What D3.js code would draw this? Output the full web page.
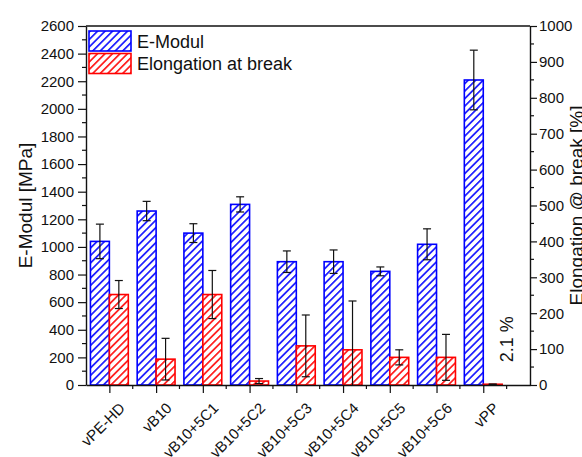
<!DOCTYPE html>
<html>
<head>
<meta charset="utf-8">
<script src="https://cdn.jsdelivr.net/npm/d3@7"></script>
<style>
  html, body { margin: 0; padding: 0; background: #fff; }
  svg { display: block; font-family: "Liberation Sans", Arial, sans-serif; }
</style>
</head>
<body>
<svg id="chart" width="582" height="457"></svg>
<script>
// Mechanical properties per material
const categories = ["vPE-HD", "vB10", "vB10+5C1", "vB10+5C2", "vB10+5C3", "vB10+5C4", "vB10+5C5", "vB10+5C6", "vPP"];
const modulus = [1040, 1260, 1100, 1308, 893, 893, 823, 1019, 2209];          // MPa
const modulusErr = [125, 70, 68, 55, 78, 85, 32, 112, 216];
const elongation = [252, 72, 252, 11, 109, 98, 77, 77, 2.1];                   // %
const elongationErr = [39, 58, 67, 7, 86, 136, 21, 64, 0.5];
const leftTicks = [0, 200, 400, 600, 800, 1000, 1200, 1400, 1600, 1800, 2000, 2200, 2400, 2600];
const rightTicks = [0, 100, 200, 300, 400, 500, 600, 700, 800, 900, 1000];
const seriesNames = ["E-Modul", "Elongation at break"];

const svg = d3.select("#chart");
const m = { left: 86, right: 530, top: 26, bottom: 385 };
const ink = "#111";

const x = d3.scaleLinear().domain([0.5, 10]).range([m.left, m.right]);
const yL = d3.scaleLinear().domain([0, 2600]).range([m.bottom, m.top]);
const yR = d3.scaleLinear().domain([0, 1000]).range([m.bottom, m.top]);
const step = x(2) - x(1);
const barW = step * 0.405;

// Hatch patterns
const defs = svg.append("defs");
function hatch(id, color) {
  const p = defs.append("pattern").attr("id", id)
    .attr("patternUnits", "userSpaceOnUse")
    .attr("width", 5.3).attr("height", 5.3)
    .attr("patternTransform", "rotate(45)");
  p.append("rect").attr("width", 5.3).attr("height", 5.3).attr("fill", "#fff");
  p.append("line").attr("x1", 0).attr("y1", 0).attr("x2", 0).attr("y2", 5.3)
    .attr("stroke", color).attr("stroke-width", 3.4);
}
hatch("hBlue", "#1a1aff");
hatch("hRed", "#ff1a1a");
defs.append("clipPath").attr("id", "plotClip").append("rect")
  .attr("x", m.left).attr("y", m.top).attr("width", m.right - m.left).attr("height", m.bottom - m.top);

const plot = svg.append("g").attr("clip-path", "url(#plotClip)");

// Bars
const idx = d3.range(categories.length);
plot.selectAll("rect.mod").data(idx).join("rect")
  .attr("x", i => x(i + 1) - barW)
  .attr("y", i => yL(modulus[i]))
  .attr("width", barW)
  .attr("height", i => yL(0) - yL(modulus[i]))
  .attr("fill", "url(#hBlue)").attr("stroke", "#0000ff").attr("stroke-width", 1.6);

plot.selectAll("rect.elo").data(idx).join("rect")
  .attr("x", i => x(i + 1))
  .attr("y", i => yR(elongation[i]))
  .attr("width", barW)
  .attr("height", i => yR(0) - yR(elongation[i]))
  .attr("fill", "url(#hRed)").attr("stroke", "#ff0000").attr("stroke-width", 1.6);

// Error bars
function errorBars(cx, vals, errs, scale) {
  const cap = 4;
  const g = plot.append("g").attr("stroke", ink).attr("stroke-width", 1.2);
  idx.forEach(i => {
    const xc = cx(i), hi = scale(vals[i] + errs[i]), lo = scale(vals[i] - errs[i]);
    g.append("line").attr("x1", xc).attr("x2", xc).attr("y1", hi).attr("y2", lo);
    g.append("line").attr("x1", xc - cap).attr("x2", xc + cap).attr("y1", hi).attr("y2", hi);
    g.append("line").attr("x1", xc - cap).attr("x2", xc + cap).attr("y1", lo).attr("y2", lo);
  });
}
errorBars(i => x(i + 1) - barW / 2, modulus, modulusErr, yL);
errorBars(i => x(i + 1) + barW / 2, elongation, elongationErr, yR);

// Value note for the last elongation bar
const last = categories.length - 1;
svg.append("text")
  .attr("transform", `translate(${x(last + 1) + step * 0.63},${yR(elongation[last]) - 45}) rotate(-90)`)
  .attr("text-anchor", "middle").attr("font-size", 18).attr("fill", ink)
  .text(`${elongation[last]} %`);

// Axes
const axisStyle = g => {
  g.selectAll("path.domain").attr("stroke", ink).attr("stroke-width", 1.4);
  g.selectAll(".tick line").attr("stroke", ink).attr("stroke-width", 1.2);
  g.selectAll(".tick text").attr("fill", ink).attr("font-size", 15)
    .attr("font-family", "Liberation Sans, Arial, sans-serif");
};

function minor(g, vals, fn) { vals.forEach(v => fn(g, v)); }

const leftAx = svg.append("g").attr("transform", `translate(${m.left},0)`)
  .call(d3.axisLeft(yL).tickValues(leftTicks).tickFormat(d3.format("d"))
    .tickSize(8).tickPadding(4).tickSizeOuter(0))
  .call(axisStyle);
minor(leftAx, d3.range(100, 2600, 200), (g, v) =>
  g.append("line").attr("x1", -4).attr("x2", 0).attr("y1", yL(v)).attr("y2", yL(v))
    .attr("stroke", ink).attr("stroke-width", 1.2));

const rightAx = svg.append("g").attr("transform", `translate(${m.right},0)`)
  .call(d3.axisRight(yR).tickValues(rightTicks).tickFormat(d3.format("d"))
    .tickSize(7).tickPadding(2).tickSizeOuter(0))
  .call(axisStyle);
minor(rightAx, d3.range(50, 1000, 100), (g, v) =>
  g.append("line").attr("x1", 0).attr("x2", 4).attr("y1", yR(v)).attr("y2", yR(v))
    .attr("stroke", ink).attr("stroke-width", 1.2));

const bottomAx = svg.append("g").attr("transform", `translate(0,${m.bottom})`)
  .call(d3.axisBottom(x).tickValues(idx.map(i => i + 1)).tickFormat(d => categories[d - 1])
    .tickSize(8).tickSizeOuter(0))
  .call(axisStyle);
bottomAx.selectAll(".tick text")
  .attr("text-anchor", "end")
  .attr("x", 0).attr("y", 0).attr("dx", 0).attr("dy", 0)
  .attr("transform", "translate(16,24) rotate(-45)");
minor(bottomAx, d3.range(1.5, 10, 1), (g, v) =>
  g.append("line").attr("x1", x(v)).attr("x2", x(v)).attr("y1", 0).attr("y2", 4)
    .attr("stroke", ink).attr("stroke-width", 1.2));

// Top frame
svg.append("line").attr("x1", m.left).attr("x2", m.right).attr("y1", m.top).attr("y2", m.top)
  .attr("stroke", ink).attr("stroke-width", 1.4);

// Axis titles
const midY = (m.top + m.bottom) / 2;
svg.append("text").attr("transform", `translate(32,${midY}) rotate(-90)`)
  .attr("text-anchor", "middle").attr("font-size", 19).attr("fill", ink).text("E-Modul [MPa]");
svg.append("text").attr("transform", `translate(583,${midY}) rotate(-90)`)
  .attr("text-anchor", "middle").attr("font-size", 19).attr("fill", ink).text("Elongation @ break [%]");

// Legend
const legend = svg.append("g").attr("transform", "translate(89,31)");
const fills = ["url(#hBlue)", "url(#hRed)"], strokes = ["#0000ff", "#ff0000"];
seriesNames.forEach((name, k) => {
  const gy = k * 22.5;
  legend.append("rect").attr("x", 0).attr("y", gy).attr("width", 42).attr("height", 20)
    .attr("fill", fills[k]).attr("stroke", strokes[k]).attr("stroke-width", 1.6);
  legend.append("text").attr("x", 48).attr("y", gy + 16.5).attr("font-size", 18).attr("fill", ink).text(name);
});
</script>
</body>
</html>
